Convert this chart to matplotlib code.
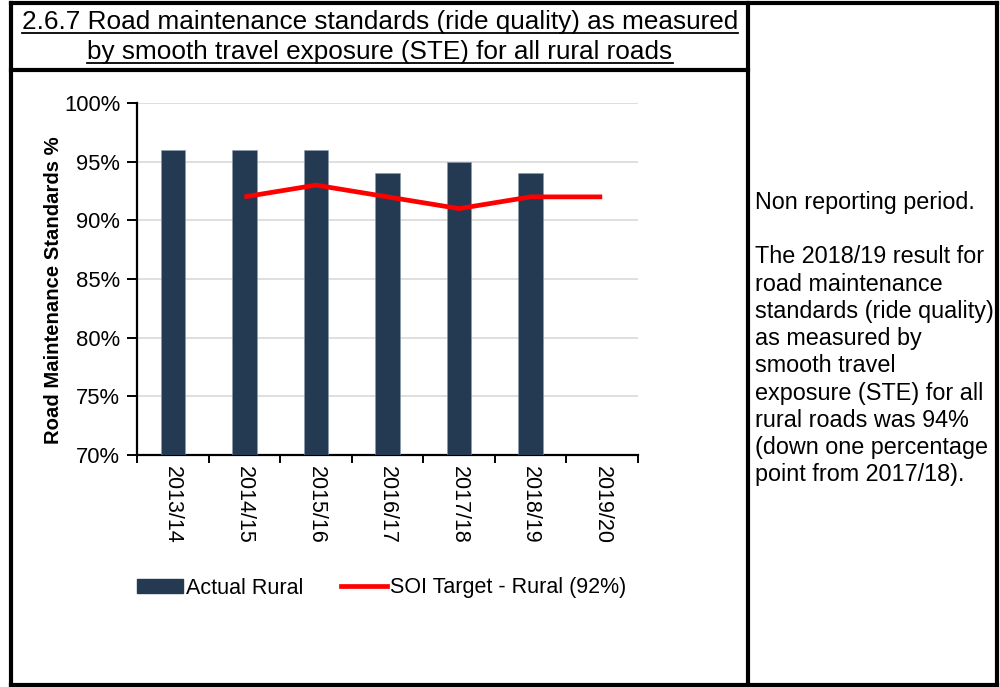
import matplotlib
matplotlib.use("Agg")
import matplotlib.pyplot as plt
from matplotlib.lines import Line2D
from matplotlib.patches import Patch
import numpy as np

plt.rcParams['font.family'] = ['Liberation Sans', 'DejaVu Sans']

categories = ["2013/14", "2014/15", "2015/16", "2016/17", "2017/18", "2018/19", "2019/20"]
actual_rural = [96, 96, 96, 94, 95, 94, None]
soi_target = [None, 92, 93, 92, 91, 92, 92]

commentary = ("Non reporting period.\n\n"
              "The 2018/19 result for\nroad maintenance\nstandards (ride quality)\n"
              "as measured by\nsmooth travel\nexposure (STE) for all\n"
              "rural roads was 94%\n(down one percentage\npoint from 2017/18).")

W, H = 1000, 687
fig = plt.figure(figsize=(W / 100, H / 100), dpi=100)

def fx(x):
    return x / W

def fy(y):
    return 1 - y / H

# table frame
lw = 3.0
def hline(y, x0, x1):
    fig.add_artist(Line2D([fx(x0), fx(x1)], [fy(y), fy(y)], color="black", lw=lw,
                          transform=fig.transFigure, solid_capstyle="projecting"))

def vline(x, y0, y1):
    fig.add_artist(Line2D([fx(x), fx(x)], [fy(y0), fy(y1)], color="black", lw=lw,
                          transform=fig.transFigure, solid_capstyle="projecting"))

hline(3, 11, 997)
hline(685, 11, 997)
hline(70, 11, 748)
vline(11, 3, 685)
vline(748, 3, 685)
vline(997, 3, 685)

# underlined title
t1 = "2.6.7 Road maintenance standards (ride quality) as measured"
t2 = "by smooth travel exposure (STE) for all rural roads"
title_texts = []
for txt, yy in [(t1, 29), (t2, 59)]:
    title_texts.append((fig.text(fx(380), fy(yy), txt, ha="center", va="baseline",
                                 fontsize=18.8, color="black"), yy))
fig.canvas.draw()
renderer = fig.canvas.get_renderer()
for t, yy in title_texts:
    bb = t.get_window_extent(renderer)
    fig.add_artist(Line2D([bb.x0 / W, bb.x1 / W], [fy(yy + 3.5), fy(yy + 3.5)],
                          color="black", lw=1.3, transform=fig.transFigure))

# commentary
fig.text(fx(755), fy(191), commentary, ha="left", va="top", fontsize=16.8,
         linespacing=1.235, color="black")

# chart
ax = fig.add_axes([fx(137), fy(455), fx(638) - fx(137), fy(103) - fy(455)])
x = np.arange(len(categories))
bar_x = [i for i, v in zip(x, actual_rural) if v is not None]
bar_v = [v for v in actual_rural if v is not None]
ax.bar(bar_x, bar_v, width=0.34, color="#243a52", edgecolor="#8a9aaa", linewidth=0.4,
       zorder=3, label="Actual Rural")
line_x = [i for i, v in zip(x, soi_target) if v is not None]
line_v = [v for v in soi_target if v is not None]
ax.plot(line_x, line_v, color="#ff0000", lw=3.4, zorder=4, label="SOI Target - Rural (92%)",
        solid_capstyle="butt", solid_joinstyle="round")

ax.set_xlim(-0.5, len(categories) - 0.5)
ax.set_ylim(70, 100)
ax.set_yticks(np.arange(70, 101, 5))
ax.set_yticklabels([f"{v}%" for v in range(70, 101, 5)], fontsize=15.8)
ax.yaxis.grid(True, color="#d9d9d9", lw=1.2, zorder=0)
ax.set_axisbelow(True)
for s in ["top", "right"]:
    ax.spines[s].set_visible(False)
for s in ["left", "bottom"]:
    ax.spines[s].set_linewidth(1.6)
ax.tick_params(axis="y", direction="out", length=7, width=1.4, pad=5)

ax.set_xticks(np.arange(-0.5, len(categories), 1.0))
ax.set_xticklabels([])
ax.set_xticks(x, minor=True)
ax.set_xticklabels(categories, minor=True, rotation=270, fontsize=15.5, va="top", ha="center")
ax.tick_params(axis="x", which="major", direction="out", length=6, width=1.4)
ax.tick_params(axis="x", which="minor", length=0, pad=8)

ax.set_ylabel("Road Maintenance Standards %", fontsize=14.6, fontweight="bold")
ax.yaxis.set_label_coords(-0.148, 0.469)

handles = [Patch(facecolor="#243a52", edgecolor="#243a52"),
           Line2D([0], [0], color="#ff0000", lw=3.4)]
fig.legend(handles, ["Actual Rural", "SOI Target - Rural (92%)"], loc="center left",
           bbox_to_anchor=(fx(137), fy(588)), ncol=2, frameon=False, fontsize=15.5,
           borderpad=0, borderaxespad=0, handlelength=2.15, handleheight=0.6,
           handletextpad=0.12, columnspacing=1.75)

fig.savefig("out.png", dpi=100)
